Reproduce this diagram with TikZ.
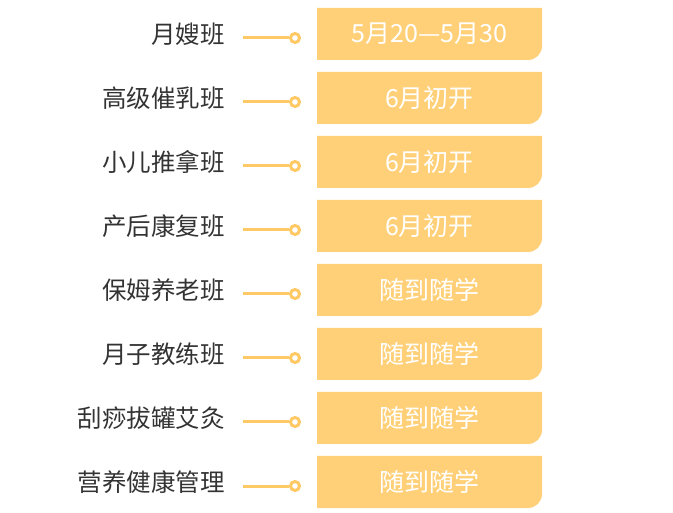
\documentclass[tikz,border=0pt]{standalone}
\usepackage{fontspec}
\newfontfamily\cjk{Noto Sans CJK SC}
\definecolor{slotgold}{HTML}{FFD077}
\definecolor{linegold}{HTML}{FFC966}
\definecolor{labelgray}{HTML}{333333}
\begin{document}
\begin{tikzpicture}[x=1pt, y=1pt,
    course/.style = {anchor=east, inner sep=0, text=labelgray, font=\cjk\fontsize{24.5}{29}\selectfont},
    slot/.style   = {minimum width=225pt, minimum height=52pt, inner sep=0, text=white,
                     font=\cjk\fontsize{25}{29}\selectfont,
                     path picture={\fill[slotgold] (path picture bounding box.north west)
                       -- (path picture bounding box.north east)
                       -- ([yshift=14pt]path picture bounding box.south east)
                       arc[start angle=0, end angle=-90, radius=14pt]
                       -- (path picture bounding box.south west) -- cycle;}},
    knob/.style   = {circle, draw=linegold, fill=white, line width=3pt, minimum size=9pt, inner sep=0},
    link/.style   = {draw=linegold, line width=3pt}]
    \useasboundingbox (0,0) rectangle (673,-513);

    \node[course] (lab1) at (225,-34)  {月嫂班};
    \node[course] (lab2) at (225,-98)  {高级催乳班};
    \node[course] (lab3) at (225,-162) {小儿推拿班};
    \node[course] (lab4) at (225,-226) {产后康复班};
    \node[course] (lab5) at (225,-290) {保姆养老班};
    \node[course] (lab6) at (225,-354) {月子教练班};
    \node[course] (lab7) at (225,-418) {刮痧拔罐艾灸};
    \node[course] (lab8) at (225,-482) {营养健康管理};

    \node[slot] (slot1) at (429.5,-34)  {5月20—5月30};
    \node[slot] (slot2) at (429.5,-98)  {6月初开};
    \node[slot] (slot3) at (429.5,-162) {6月初开};
    \node[slot] (slot4) at (429.5,-226) {6月初开};
    \node[slot] (slot5) at (429.5,-290) {随到随学};
    \node[slot] (slot6) at (429.5,-354) {随到随学};
    \node[slot] (slot7) at (429.5,-418) {随到随学};
    \node[slot] (slot8) at (429.5,-482) {随到随学};

    \coordinate (s1) at (243,-38);
    \coordinate (s2) at (243,-102);
    \coordinate (s3) at (243,-166);
    \coordinate (s4) at (243,-230);
    \coordinate (s5) at (243,-294);
    \coordinate (s6) at (243,-358);
    \coordinate (s7) at (243,-422);
    \coordinate (s8) at (243,-486);

    \node[knob] (knob1) at (295,-38)  {};
    \node[knob] (knob2) at (295,-102) {};
    \node[knob] (knob3) at (295,-166) {};
    \node[knob] (knob4) at (295,-230) {};
    \node[knob] (knob5) at (295,-294) {};
    \node[knob] (knob6) at (295,-358) {};
    \node[knob] (knob7) at (295,-422) {};
    \node[knob] (knob8) at (295,-486) {};

    \draw[link] (s1) -- (knob1.west);
    \draw[link] (s2) -- (knob2.west);
    \draw[link] (s3) -- (knob3.west);
    \draw[link] (s4) -- (knob4.west);
    \draw[link] (s5) -- (knob5.west);
    \draw[link] (s6) -- (knob6.west);
    \draw[link] (s7) -- (knob7.west);
    \draw[link] (s8) -- (knob8.west);
  \end{tikzpicture}
\end{document}
